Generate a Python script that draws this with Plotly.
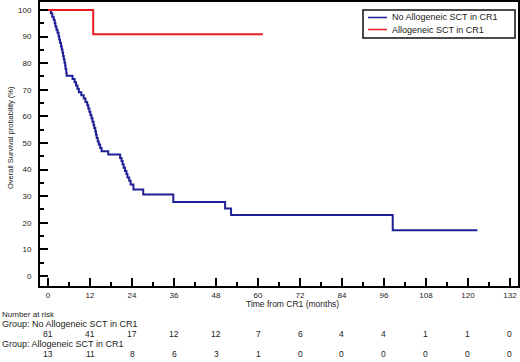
import plotly.graph_objects as go

# Kaplan-Meier step data (months, survival %)
no_allo_t = [0, 0.8, 1.2, 1.6, 1.9, 2.1, 2.4, 2.7, 3.0, 3.2, 3.4, 3.7, 3.9, 4.1, 4.3, 4.5, 4.7, 4.9, 5.0, 5.2, 5.3,
             7.0, 7.6, 8.0, 8.4, 8.8, 9.5, 10.2, 10.7, 11.2, 11.5, 11.8, 12.1, 12.4, 12.7, 13.0, 13.2, 13.5, 13.7,
             13.9, 14.2, 14.5, 14.9, 15.3, 17.2, 20.6, 21.0, 21.3, 21.6, 22.0, 22.4, 22.7, 23.2, 23.6, 24.4,
             27.2, 35.8, 50.6, 52.3, 98.5, 122.7]
no_allo_s = [100, 98.8, 97.5, 96.3, 95.1, 93.8, 92.6, 91.4, 90.1, 88.9, 87.7, 86.4, 85.2, 84.0, 82.7, 81.5, 80.2, 79.0, 77.8, 76.5, 75.3,
             74.1, 72.8, 71.6, 70.4, 69.1, 67.9, 66.7, 65.4, 64.2, 63.0, 61.7, 60.5, 59.3, 58.0, 56.8, 55.6, 54.3, 53.1,
             51.9, 50.6, 49.4, 48.1, 46.9, 45.7, 44.4, 43.2, 42.0, 40.7, 39.5, 38.3, 37.0, 35.8, 34.4, 32.5,
             30.6, 27.8, 25.4, 22.9, 17.2, 17.2]

allo_t = [0, 12.9, 61.4]
allo_s = [100, 90.9, 90.9]

risk_times = [0, 12, 24, 36, 48, 60, 72, 84, 96, 108, 120, 132]
risk_no_allo = [81, 41, 17, 12, 12, 7, 6, 4, 4, 1, 1, 0]
risk_allo = [13, 11, 8, 6, 3, 1, 0, 0, 0, 0, 0, 0]

group_labels = ["Group: No Allogeneic SCT in CR1", "Group: Allogeneic SCT in CR1"]
series_names = ["No Allogeneic SCT in CR1", "Allogeneic SCT in CR1"]
series_colors = ["#1f1f96", "#ec1c24"]

FONT = "Liberation Sans, Arial, sans-serif"
TXT = "#222222"

# plot area in pixels: x 40..518, y 2..286
L, R, T, B = 40, 518, 2, 286
W, H = R - L, B - T


def px(x):
    return (x - L) / W


def py(y):
    return (B - y) / H


fig = go.Figure()
fig.add_trace(go.Scatter(x=no_allo_t, y=no_allo_s, mode="lines", line=dict(shape="hv", color=series_colors[0], width=2),
                         name=series_names[0], showlegend=False))
fig.add_trace(go.Scatter(x=allo_t, y=allo_s, mode="lines", line=dict(shape="hv", color=series_colors[1], width=2),
                         name=series_names[1], showlegend=False))

anns = []
shapes = []

# Legend (drawn in the plot's own corner box)
shapes.append(dict(type="rect", xref="paper", yref="paper", x0=px(363), x1=px(515), y0=py(38), y1=py(10),
                   line=dict(color="#111111", width=1.5), fillcolor="white", layer="above"))
for i, (nm, col) in enumerate(zip(series_names, series_colors)):
    yy = 17.5 + 12 * i
    shapes.append(dict(type="line", xref="paper", yref="paper", x0=px(368), x1=px(387), y0=py(yy), y1=py(yy),
                       line=dict(color=col, width=1.5), layer="above"))
    anns.append(dict(x=px(390), y=py(yy), xref="paper", yref="paper", text=nm, showarrow=False,
                     xanchor="left", yanchor="middle", font=dict(size=9, color=TXT, family=FONT)))

# Number at risk table
anns.append(dict(x=px(0), y=py(314), xref="paper", yref="paper", text="Number at risk",
                 showarrow=False, xanchor="left", yanchor="middle", font=dict(size=8, color=TXT, family=FONT)))
anns.append(dict(x=px(0), y=py(323.5), xref="paper", yref="paper", text=group_labels[0],
                 showarrow=False, xanchor="left", yanchor="middle", font=dict(size=9, color=TXT, family=FONT)))
anns.append(dict(x=px(0), y=py(343.5), xref="paper", yref="paper", text=group_labels[1],
                 showarrow=False, xanchor="left", yanchor="middle", font=dict(size=9, color=TXT, family=FONT)))
for t, n in zip(risk_times, risk_no_allo):
    anns.append(dict(x=t, y=py(334), xref="x", yref="paper", text=str(n), showarrow=False,
                     xanchor="center", yanchor="middle", font=dict(size=8.5, color=TXT, family=FONT)))
for t, n in zip(risk_times, risk_allo):
    anns.append(dict(x=t, y=py(354), xref="x", yref="paper", text=str(n), showarrow=False,
                     xanchor="center", yanchor="middle", font=dict(size=8.5, color=TXT, family=FONT)))
# axis titles
anns.append(dict(x=px(292), y=py(304), xref="paper", yref="paper", text="Time from CR1 (months)",
                 showarrow=False, xanchor="center", yanchor="middle", font=dict(size=8.5, color=TXT, family=FONT)))
anns.append(dict(x=px(10), y=py(138), xref="paper", yref="paper", text="Overall Survival probability (%)",
                 showarrow=False, xanchor="center", yanchor="middle", textangle=-90,
                 font=dict(size=7.5, color=TXT, family=FONT)))

fig.update_layout(
    width=520, height=362,
    margin=dict(l=L, r=520 - R, t=T, b=362 - B, autoexpand=False),
    paper_bgcolor="white", plot_bgcolor="white",
    font=dict(family=FONT, size=8, color=TXT),
    annotations=anns,
    shapes=shapes,
    showlegend=False,
)
fig.update_xaxes(range=[-2.3, 134.3], tickmode="array", tickvals=risk_times, automargin=False,
                 ticks="inside", ticklen=8, tickwidth=2, tickcolor="black",
                 minor=dict(ticks="inside", ticklen=4, tickwidth=1.5, dtick=6, tick0=0, tickcolor="black"),
                 showline=True, linecolor="black", linewidth=2, mirror=True,
                 showgrid=False, zeroline=False, tickfont=dict(size=8, color=TXT))
fig.update_yaxes(range=[-3.76, 103.0], tickmode="linear", tick0=0, dtick=10, automargin=False,
                 ticks="inside", ticklen=8, tickwidth=2, tickcolor="black",
                 minor=dict(ticks="inside", ticklen=4, tickwidth=1.5, dtick=5, tick0=0, tickcolor="black"),
                 showline=True, linecolor="black", linewidth=2, mirror=True,
                 showgrid=False, zeroline=False, tickfont=dict(size=8, color=TXT),
                 ticklabelstandoff=5)

fig.write_html("out.html", config={"displayModeBar": False},
               post_script="document.body.style.margin='0';document.body.style.padding='0';")
